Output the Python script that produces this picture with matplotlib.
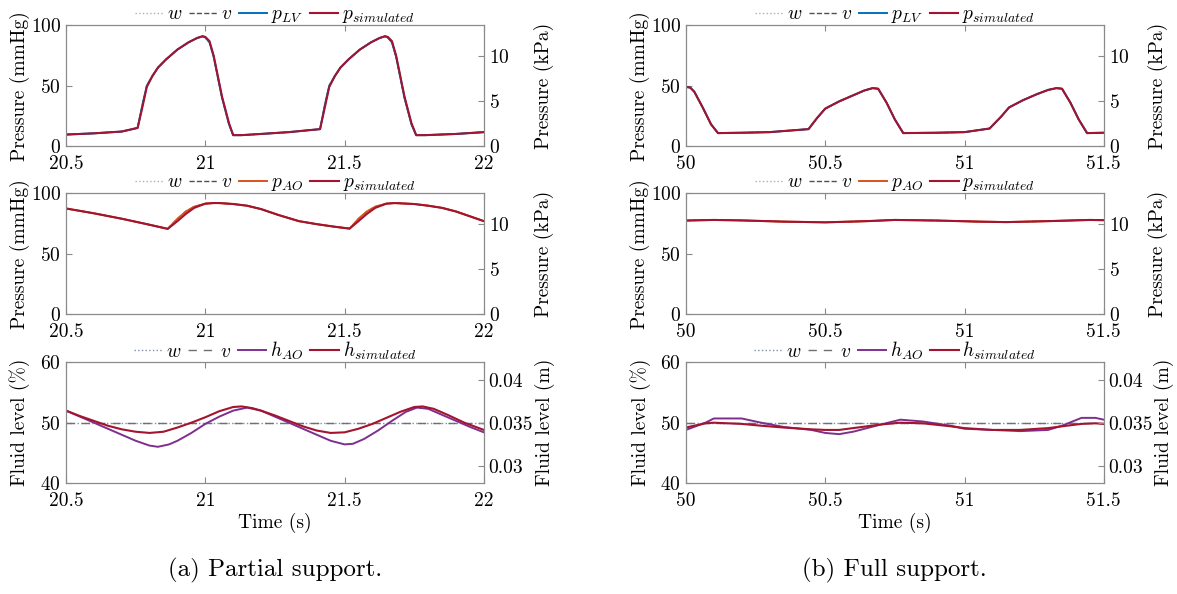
import matplotlib
matplotlib.use("Agg")
import matplotlib.pyplot as plt

plt.rcParams['font.family'] = 'cmr10'
plt.rcParams['mathtext.fontset'] = 'cm'
plt.rcParams['axes.formatter.use_mathtext'] = True
plt.rcParams['font.size'] = 14

# colours (MATLAB defaults)
c_lv = '#0072BD'
c_ao = '#D95319'
c_h = '#7E2F8E'
c_sim = '#A2142F'

# ---- (a) partial support ----
a_t_lv = [20.5, 20.6, 20.7, 20.757, 20.775, 20.79, 20.81, 20.83, 20.86, 20.9, 20.94, 20.97, 20.99, 21.0,
          21.015, 21.03, 21.06, 21.085, 21.1, 21.13, 21.2, 21.3, 21.412, 21.43, 21.445, 21.465, 21.485,
          21.515, 21.555, 21.595, 21.625, 21.645, 21.655, 21.67, 21.685, 21.715, 21.74, 21.757, 21.79,
          21.9, 22.0]
a_p_lv = [9.5, 10.5, 12, 15, 35, 50, 58, 65, 72, 80, 86, 89.5, 91, 90, 86, 74, 40, 18, 9, 9, 10, 11.5, 14,
          35, 50, 58, 65, 72, 80, 86, 89.5, 91, 90, 86, 74, 40, 18, 9, 9, 10, 11.5]
a_p_lv_sim = [9.5, 10.5, 12, 15, 33, 49, 58, 65, 72, 80, 86, 89.5, 91, 90.5, 87, 75, 41, 19, 9, 9, 10, 11.5,
              14, 33, 49, 58, 65, 72, 80, 86, 89.5, 91, 90.5, 87, 75, 41, 19, 9, 9, 10, 11.5]

a_t_ao = [20.5, 20.6, 20.7, 20.8, 20.865, 20.9, 20.93, 20.96, 21.0, 21.03, 21.05, 21.1, 21.15, 21.2, 21.264,
          21.3, 21.336, 21.4, 21.46, 21.518, 21.55, 21.58, 21.61, 21.65, 21.68, 21.75, 21.8, 21.85, 21.9,
          21.95, 22.0]
a_p_ao = [87.5, 83.5, 79, 74, 70.6, 79, 85, 89, 91.5, 92, 92, 91.2, 89.8, 87, 82, 79.5, 77, 74.5, 72.5,
          70.8, 79, 85, 89, 91.5, 92, 91.2, 89.8, 88, 85, 81, 77]
a_p_ao_sim = [87.5, 83.5, 79, 74, 70.6, 77, 83, 88, 91.5, 92, 92, 91.2, 89.8, 87, 82, 79.5, 77, 74.5, 72.5,
              70.8, 77, 83, 88, 91.5, 92, 91.2, 89.8, 88, 85, 81, 77]

a_t_hao = [20.5, 20.55, 20.6, 20.65, 20.7, 20.75, 20.8, 20.83, 20.87, 20.9, 20.95, 21.0, 21.05, 21.1, 21.15,
           21.2, 21.25, 21.3, 21.35, 21.4, 21.45, 21.5, 21.53, 21.57, 21.62, 21.67, 21.72, 21.76, 21.8,
           21.85, 21.9, 21.95, 22.0]
a_h_ao = [52, 51, 50, 49, 48, 47, 46.2, 46, 46.4, 47, 48.3, 49.8, 51, 52, 52.5, 52, 51, 50, 49, 48, 47,
          46.4, 46.5, 47.3, 48.7, 50.3, 51.8, 52.5, 52.3, 51.3, 50.3, 49.3, 48.4]
a_t_hsim = [20.5, 20.55, 20.6, 20.65, 20.7, 20.75, 20.8, 20.85, 20.9, 20.95, 21.0, 21.05, 21.1, 21.13, 21.17,
            21.2, 21.25, 21.3, 21.35, 21.4, 21.45, 21.5, 21.55, 21.6, 21.65, 21.7, 21.75, 21.78, 21.82,
            21.87, 21.93, 22.0]
a_h_sim = [52, 51.1, 50.3, 49.5, 48.9, 48.5, 48.3, 48.5, 49.2, 50.0, 50.9, 51.9, 52.6, 52.7, 52.4, 52.0,
           51.2, 50.3, 49.4, 48.7, 48.3, 48.4, 49.0, 49.8, 50.8, 51.8, 52.6, 52.7, 52.3, 51.3, 50.0, 48.8]

# ---- (b) full support ----
b_t_lv = [50.0, 50.015, 50.03, 50.06, 50.09, 50.115, 50.2, 50.3, 50.44, 50.47, 50.5, 50.55, 50.6, 50.64,
          50.67, 50.69, 50.72, 50.75, 50.78, 50.9, 51.0, 51.09, 51.13, 51.16, 51.21, 51.26, 51.3, 51.33,
          51.35, 51.38, 51.41, 51.44, 51.5]
b_p_lv = [49, 48.5, 45, 32, 18, 10.7, 11, 11.5, 14, 23, 31, 37, 42, 46, 48, 47.5, 36, 22, 10.7, 11, 11.5,
          14.5, 24, 32, 38, 43, 46.5, 48, 47.5, 36, 22, 10.7, 11]

b_t_ao = [50.0, 50.1, 50.2, 50.35, 50.5, 50.65, 50.75, 50.9, 51.05, 51.15, 51.3, 51.45, 51.5]
b_p_ao = [77.5, 78, 77.6, 76.6, 76, 77, 78, 77.5, 76.6, 76.2, 77, 78, 77.8]

b_t_h = [50.0, 50.07, 50.1, 50.2, 50.27, 50.35, 50.45, 50.5, 50.55, 50.6, 50.7, 50.77, 50.85, 50.95,
         51.0, 51.1, 51.2, 51.3, 51.35, 51.42, 51.47, 51.5]
b_h_ao = [48.8, 50, 50.7, 50.7, 50, 49.3, 48.8, 48.3, 48.1, 48.5, 49.7, 50.5, 50.2, 49.5, 49, 48.8, 48.6,
          48.8, 49.5, 50.8, 50.8, 50.5]
b_h_sim = [49.2, 49.9, 50.0, 49.8, 49.5, 49.2, 48.9, 48.8, 48.8, 49.1, 49.7, 50.0, 49.9, 49.4, 49.1,
           48.8, 48.8, 49.1, 49.4, 49.8, 49.9, 49.8]

h_ref = 50  # fluid level set point (%)

cols = [
    dict(x0=0.0561, xlim=(20.5, 22), xticks=[20.5, 21, 21.5, 22], xticklabels=['20.5', '21', '21.5', '22'],
         lv=(a_t_lv, a_p_lv, a_t_lv, a_p_lv_sim), ao=(a_t_ao, a_p_ao, a_t_ao, a_p_ao_sim),
         h=(a_t_hao, a_h_ao, a_t_hsim, a_h_sim), caption='(a) Partial support.',
         lab_l=-0.110, lab_r=1.143, lab_rh=1.146),
    dict(x0=0.5828, xlim=(50, 51.5), xticks=[50, 50.5, 51, 51.5], xticklabels=['50', '50.5', '51', '51.5'],
         lv=(b_t_lv, b_p_lv, b_t_lv, b_p_lv), ao=(b_t_ao, b_p_ao, b_t_ao, b_p_ao),
         h=(b_t_h, b_h_ao, b_t_h, b_h_sim), caption='(b) Full support.',
         lab_l=-0.109, lab_r=1.13, lab_rh=1.145),
]

rows_bottom = [0.7542, 0.4714, 0.1869]
ax_w = 0.355
ax_h = 0.203
spine_c = '#8a8a8a'

fig = plt.figure(figsize=(11.77, 5.94), dpi=100)


def style(ax, col):
    for s in ax.spines.values():
        s.set_color(spine_c)
    ax.tick_params(direction='in', length=4, color=spine_c, labelsize=14, top=True)
    ax.tick_params(axis='x', pad=6.5)
    ax.set_xlim(*col['xlim'])
    ax.set_xticks(col['xticks'])
    ax.set_xticklabels(col['xticklabels'])


def legend(ax, lines):
    ax.legend(handles=lines, loc='lower center', bbox_to_anchor=(0.5, 1.0), ncol=4, frameon=False,
              fontsize=14, handlelength=1.45, handletextpad=0.2, columnspacing=0.35, borderpad=0,
              borderaxespad=0.0)


def right_axis(ax, label, lim, ticks, lab_x, ticklabels=None):
    ax2 = ax.twinx()
    ax2.set_ylim(*lim)
    ax2.set_yticks(ticks)
    if ticklabels:
        ax2.set_yticklabels(ticklabels)
    for s in ax2.spines.values():
        s.set_color(spine_c)
    ax2.tick_params(direction='in', length=4, color=spine_c, labelsize=14)
    ax2.set_ylabel(label, fontsize=14, va='center')
    ax2.yaxis.set_label_coords(lab_x, 0.5)


def pressure_panel(ax, col, data, colour, name):
    t, p, ts, ps = data
    lw_ = ax.plot(t, p, ':', color='#b0b0b0', lw=1.0, label='$w$')[0]
    lv_ = ax.plot(t, p, '--', color='#505050', lw=1.0, label='$v$')[0]
    l1 = ax.plot(t, p, '-', color=colour, lw=1.4, label=name)[0]
    l2 = ax.plot(ts, ps, '-', color=c_sim, lw=1.5, label='$p_{simulated}$')[0]
    style(ax, col)
    ax.set_ylim(0, 100)
    ax.set_yticks([0, 50, 100])
    ax.set_ylabel('Pressure (mmHg)', fontsize=14, va='center')
    ax.yaxis.set_label_coords(col['lab_l'], 0.5)
    legend(ax, [lw_, lv_, l1, l2])
    right_axis(ax, 'Pressure (kPa)', (0, 100 * 0.133322), [0, 5, 10], col['lab_r'])


for col in cols:
    x0 = col['x0']
    # LV pressure
    ax = fig.add_axes([x0, rows_bottom[0], ax_w, ax_h])
    pressure_panel(ax, col, col['lv'], c_lv, '$p_{LV}$')

    # AO pressure
    ax = fig.add_axes([x0, rows_bottom[1], ax_w, ax_h])
    pressure_panel(ax, col, col['ao'], c_ao, '$p_{AO}$')

    # fluid level
    ax = fig.add_axes([x0, rows_bottom[2], ax_w, ax_h])
    t, h, ts, hs = col['h']
    lw_ = ax.plot(col['xlim'], [h_ref, h_ref], ':', color='#7f8fa8', lw=1.0, label='$w$')[0]
    lv_ = ax.plot(col['xlim'], [h_ref, h_ref], '--', color='#707070', lw=1.0, dashes=(6, 5), label='$v$')[0]
    l1 = ax.plot(t, h, '-', color=c_h, lw=1.4, label='$h_{AO}$')[0]
    l2 = ax.plot(ts, hs, '-', color=c_sim, lw=1.5, label='$h_{simulated}$')[0]
    style(ax, col)
    ax.set_ylim(40, 60)
    ax.set_yticks([40, 50, 60])
    ax.set_ylabel('Fluid level (%)', fontsize=14, va='center')
    ax.yaxis.set_label_coords(col['lab_l'], 0.5)
    ax.set_xlabel('Time (s)', fontsize=14, labelpad=2)
    legend(ax, [lw_, lv_, l1, l2])
    right_axis(ax, 'Fluid level (m)', (0.028, 0.042), [0.03, 0.035, 0.04], col['lab_rh'],
               ['0.03', '0.035', '0.04'])

    fig.text(x0 + ax_w / 2, 1 - 570 / 594, col['caption'], ha='center', va='center', fontsize=18)

fig.savefig('out.png', dpi=100)
